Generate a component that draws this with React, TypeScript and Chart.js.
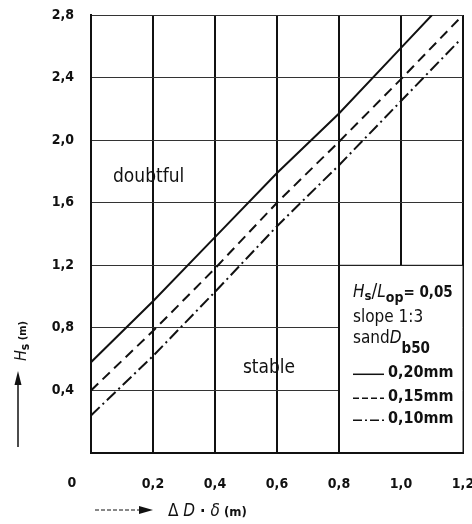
import React, { useEffect, useRef } from "react";
import { Chart, registerables } from "chart.js";
Chart.register(...registerables);

// ---- data ----
const xTicks = [0, 0.2, 0.4, 0.6, 0.8, 1.0, 1.2];
const yTicks = [0, 0.4, 0.8, 1.2, 1.6, 2.0, 2.4, 2.8];

const solidX = [0, 0.2, 0.4, 0.6, 0.8, 1.0, 1.1];
const solidY = [0.58, 0.97, 1.38, 1.79, 2.17, 2.59, 2.8];
const dashedX = [0, 0.2, 0.4, 0.6, 0.8, 1.0, 1.19];
const dashedY = [0.4, 0.78, 1.18, 1.6, 1.99, 2.39, 2.78];
const dashDotX = [0, 0.2, 0.4, 0.6, 0.8, 1.0, 1.19];
const dashDotY = [0.24, 0.62, 1.03, 1.45, 1.84, 2.25, 2.64];

const seriesLabels = ["0,20mm", "0,15mm", "0,10mm"];
const regionLabels = ["doubtful", "stable"];
const legendTitle = ["= 0,05", "slope 1:3", "sand"];

const FONT = '"DejaVu Sans Condensed", "Liberation Sans Narrow", sans-serif';
const INK = "#111";
const dashes: number[][] = [[], [10, 6], [12, 4, 2, 4]];

const fmt = (v: number) => (Math.abs(v) < 1e-9 ? "" : v.toFixed(1).replace(".", ","));

type Run = { t: string; font: string; dy?: number };
function drawRuns(ctx: CanvasRenderingContext2D, x: number, y: number, runs: Run[]) {
  let cx = x;
  for (const r of runs) {
    ctx.font = r.font;
    ctx.fillText(r.t, cx, y + (r.dy || 0));
    cx += ctx.measureText(r.t).width;
  }
  return cx;
}

const zeroPad = (s: any) => {
  s.paddingLeft = 0;
  s.paddingRight = 0;
  s.paddingTop = 0;
  s.paddingBottom = 0;
};

const decor = {
  id: "decor",
  beforeDatasetsDraw(chart: any) {
    const { ctx, scales } = chart;
    const x = scales.x, y = scales.y;
    const l = x.getPixelForValue(0.8), r = x.getPixelForValue(1.2);
    const t = y.getPixelForValue(1.2), b = y.getPixelForValue(0);
    ctx.save();
    ctx.fillStyle = "#fff";
    ctx.fillRect(l + 1, t + 0.5, r - l - 1.5, b - t - 1.5);
    ctx.strokeStyle = INK;
    ctx.lineWidth = 2;
    ctx.beginPath();
    ctx.moveTo(l, b);
    ctx.lineTo(l, t);
    ctx.stroke();
    ctx.lineWidth = 1;
    ctx.beginPath();
    ctx.moveTo(l, t);
    ctx.lineTo(r, t);
    ctx.stroke();
    ctx.restore();
  },
  afterDatasetsDraw(chart: any) {
    const { ctx, scales } = chart;
    const x = scales.x, y = scales.y;
    const l = x.getPixelForValue(0.8);
    const t = y.getPixelForValue(1.2);
    ctx.save();
    ctx.fillStyle = INK;
    ctx.textBaseline = "alphabetic";
    ctx.textAlign = "left";
    const f = `17px ${FONT}`;
    const fi = `italic 17px ${FONT}`;
    const tx = l + 14;
    drawRuns(ctx, tx, t + 32, [
      { t: "H", font: fi },
      { t: "s", font: `bold 13px ${FONT}`, dy: 3 },
      { t: "/", font: `19px ${FONT}` },
      { t: "L", font: fi },
      { t: "op", font: `bold 14px ${FONT}`, dy: 5 },
      { t: legendTitle[0], font: `bold 15px ${FONT}` },
    ]);
    drawRuns(ctx, tx, t + 57, [{ t: legendTitle[1], font: f }]);
    drawRuns(ctx, tx, t + 78, [
      { t: legendTitle[2], font: f },
      { t: "D", font: fi },
      { t: "b50", font: `bold 15px ${FONT}`, dy: 10 },
    ]);
    const rows = [t + 112, t + 136, t + 158];
    rows.forEach((by, i) => {
      ctx.save();
      ctx.strokeStyle = INK;
      ctx.lineWidth = 1.5;
      ctx.setLineDash(i === 1 ? [6, 3] : i === 2 ? [9, 3, 2, 3] : []);
      ctx.beginPath();
      ctx.moveTo(tx, by - 3);
      ctx.lineTo(tx + 31, by - 3);
      ctx.stroke();
      ctx.restore();
      drawRuns(ctx, tx + 35, by, [{ t: seriesLabels[i], font: `bold 16px ${FONT}` }]);
    });

    // region labels
    ctx.font = `19px ${FONT}`;
    ctx.fillText(regionLabels[0], x.getPixelForValue(0.071), y.getPixelForValue(1.73));
    ctx.fillText(regionLabels[1], x.getPixelForValue(0.49), y.getPixelForValue(0.51));

    // shared origin label
    ctx.font = `bold 14px ${FONT}`;
    ctx.textAlign = "center";
    ctx.textBaseline = "middle";
    ctx.fillText("0", x.getPixelForValue(0) - 19, y.getPixelForValue(0) + 30);

    // y axis title with arrow
    const ax = 18;
    const yb = y.getPixelForValue(0) - 6;
    ctx.strokeStyle = INK;
    ctx.lineWidth = 1.5;
    ctx.beginPath();
    ctx.moveTo(ax, yb);
    ctx.lineTo(ax, yb - 66);
    ctx.stroke();
    ctx.beginPath();
    ctx.moveTo(ax, yb - 76);
    ctx.lineTo(ax - 3.5, yb - 62);
    ctx.lineTo(ax + 3.5, yb - 62);
    ctx.closePath();
    ctx.fill();
    ctx.save();
    ctx.translate(26, yb - 86);
    ctx.rotate(-Math.PI / 2);
    ctx.textAlign = "left";
    ctx.textBaseline = "alphabetic";
    drawRuns(ctx, 0, 0, [
      { t: "H", font: `italic 16px ${FONT}` },
      { t: "s", font: `bold 12px ${FONT}`, dy: 3 },
      { t: " (m)", font: `bold 11px ${FONT}` },
    ]);
    ctx.restore();

    // x axis title with arrow
    const xy = y.getPixelForValue(0) + 57;
    const x0 = x.getPixelForValue(0) + 4;
    ctx.save();
    ctx.lineWidth = 1;
    ctx.setLineDash([4, 2]);
    ctx.beginPath();
    ctx.moveTo(x0, xy);
    ctx.lineTo(x0 + 46, xy);
    ctx.stroke();
    ctx.restore();
    ctx.beginPath();
    ctx.moveTo(x0 + 58, xy);
    ctx.lineTo(x0 + 44, xy - 4);
    ctx.lineTo(x0 + 44, xy + 4);
    ctx.closePath();
    ctx.fill();
    ctx.textAlign = "left";
    ctx.textBaseline = "alphabetic";
    drawRuns(ctx, x0 + 73, xy + 6, [
      { t: "Δ ", font: `17px ${FONT}` },
      { t: "D", font: `italic 17px ${FONT}` },
      { t: " · ", font: `bold 16px ${FONT}` },
      { t: "δ", font: `italic 17px ${FONT}` },
      { t: " (m)", font: `bold 13px ${FONT}` },
    ]);
    ctx.restore();
  },
};

export default function App() {
  const ref = useRef<HTMLCanvasElement | null>(null);
  useEffect(() => {
    document.body.style.margin = "0";
    const canvas = ref.current!;
    const series = [
      { xs: solidX, ys: solidY, label: seriesLabels[0] },
      { xs: dashedX, ys: dashedY, label: seriesLabels[1] },
      { xs: dashDotX, ys: dashDotY, label: seriesLabels[2] },
    ];
    const chart = new Chart(canvas, {
      type: "line",
      data: {
        datasets: series.map((s, i) => ({
          label: s.label,
          data: s.xs.map((xv, k) => ({ x: xv, y: s.ys[k] })),
          borderColor: INK,
          borderWidth: 2,
          borderDash: dashes[i],
          pointRadius: 0,
          fill: false,
          tension: 0,
        })),
      },
      options: {
        responsive: false,
        animation: false,
        layout: { padding: { left: 0, top: 15, right: 9, bottom: 0 } },
        plugins: { legend: { display: false }, tooltip: { enabled: false } },
        scales: {
          x: {
            type: "linear",
            min: 0,
            max: 1.2,
            afterBuildTicks: (s: any) => {
              s.ticks = xTicks.map((v) => ({ value: v }));
            },
            afterFit: (s: any) => {
              s.height = 71;
              zeroPad(s);
            },
            ticks: {
              callback: (v: any) => fmt(Number(v)),
              font: { family: FONT, size: 14, weight: "bold" },
              color: INK,
              padding: 23,
              maxRotation: 0,
              autoSkip: false,
            },
            grid: { color: INK, lineWidth: 2, drawTicks: false },
            border: { display: true, color: INK, width: 2 },
          },
          y: {
            type: "linear",
            min: 0,
            max: 2.8,
            afterBuildTicks: (s: any) => {
              s.ticks = yTicks.map((v) => ({ value: v }));
            },
            afterFit: (s: any) => {
              s.width = 91;
              zeroPad(s);
            },
            ticks: {
              callback: (v: any) => fmt(Number(v)),
              font: { family: FONT, size: 14, weight: "bold" },
              color: INK,
              padding: 17,
              autoSkip: false,
            },
            grid: { color: "#333", lineWidth: 1, drawTicks: false },
            border: { display: true, color: INK, width: 2 },
          },
        },
      },
      plugins: [decor],
    });
    return () => chart.destroy();
  }, []);
  return <canvas ref={ref} width={472} height={524} style={{ display: "block" }} />;
}
